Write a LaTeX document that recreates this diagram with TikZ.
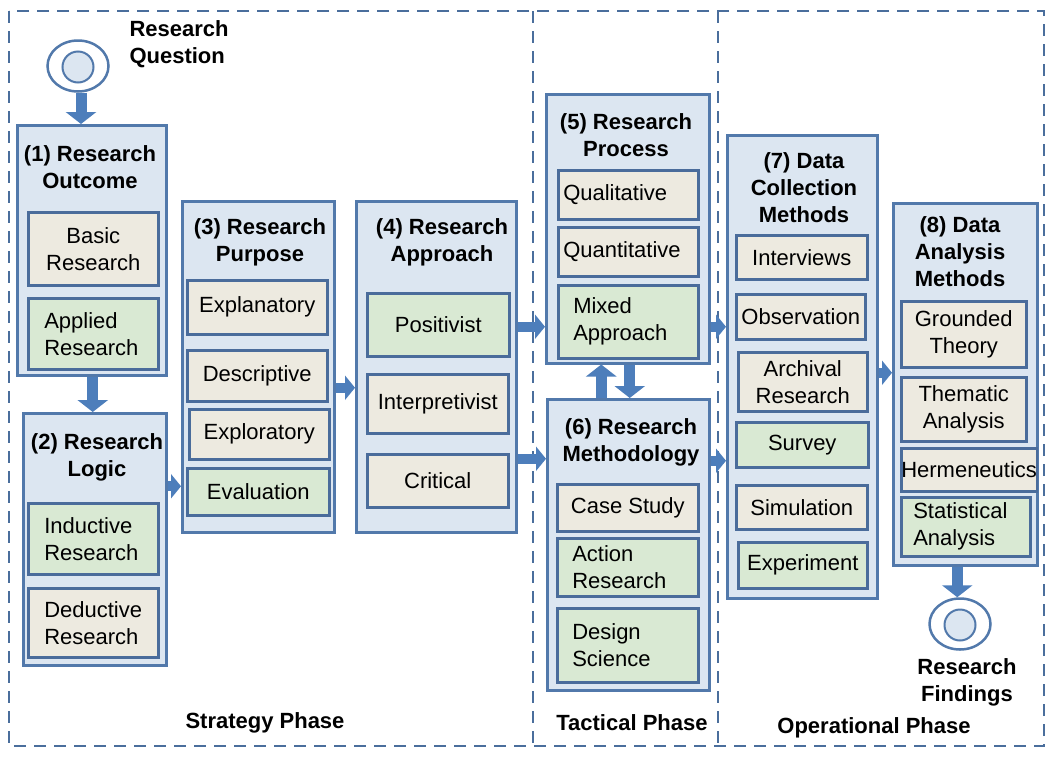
\documentclass[tikz,border=0pt]{standalone}
\usepackage{fontspec}
\setmainfont{Liberation Sans}
\usetikzlibrary{arrows.meta, shapes.geometric}

\definecolor{frameblue}{HTML}{4A6E9C}
\definecolor{stageline}{HTML}{5279AB}
\definecolor{stagefill}{HTML}{DCE6F1}
\definecolor{itemline}{HTML}{4A6C9B}
\definecolor{beige}{HTML}{EDEAE0}
\definecolor{leaf}{HTML}{D9E9D3}
\definecolor{arrowblue}{HTML}{4D7EBB}

\tikzset{
	phase/.style={draw=frameblue, line width=2pt, dash pattern=on 12pt off 8pt},
	stage/.style={rectangle, draw=stageline, fill=stagefill, line width=2.5pt, anchor=north west, inner sep=0pt},
	option/.style={rectangle, draw=itemline, line width=2.5pt, anchor=north west, inner sep=0pt, font=\fontsize{22}{27}\selectfont, align=center},
	plain/.style={option, fill=beige},
	chosen/.style={option, fill=leaf},
	heading/.style={font=\bfseries\fontsize{22}{27}\selectfont, align=center},
	flow/.style={draw=arrowblue, line width=11pt, -{Triangle[width=30pt,length=12pt]}},
	sideflow/.style={draw=arrowblue, line width=10pt, -{Triangle[width=24pt,length=10pt]}},
	terminal/.style={ellipse, draw=stageline, fill=white, line width=2.5pt, minimum width=61pt, minimum height=51pt, inner sep=0pt}
}

\begin{document}
\begin{tikzpicture}[x=1pt, y=-1pt]
		
		\useasboundingbox (0,0) rectangle (1055,761);
		
		%Phases
		\draw[phase] (9,11) rectangle (1044,746);
		\draw[phase] (533,11) -- (533,746);
		\draw[phase] (718,11) -- (718,746);
		\node (strategy) at (265,723) [heading]{Strategy Phase};
		\node (tactical) at (632,723) [heading]{Tactical Phase};
		\node (operational) at (874,728) [heading]{Operational Phase};
		
		%Start and end
		\node (question) at (78,66) [terminal]{};
		\node (questiondot) at (78,67) [circle, draw=stageline, fill=stagefill, line width=2pt, minimum size=31pt, inner sep=0pt]{};
		\node (questiontext) at (126,44) [heading, anchor=west, align=left]{Research\\Question};
		
		\node (findings) at (960,624) [terminal]{};
		\node (findingsdot) at (960,625) [circle, draw=stageline, fill=stagefill, line width=2pt, minimum size=31pt, inner sep=0pt]{};
		\node (findingstext) at (967,682) [heading]{Research\\Findings};
		
		%(1) Research Outcome
		\node (outcome) at (16,124) [stage, minimum width=149pt, minimum height=250pt]{};
		\node (outcometitle) at (90,167) [heading]{(1) Research\\Outcome};
		\node (basic) at (27,211) [plain, minimum width=130pt, minimum height=73pt]{Basic\\Research};
		\node (applied) at (27,297) [chosen, minimum width=130pt, minimum height=71pt, text width=98pt, align=left]{Applied\\Research};
		
		%(2) Research Logic
		\node (logic) at (22,412) [stage, minimum width=143pt, minimum height=252pt]{};
		\node (logictitle) at (97,457) [heading]{(2) Research\\Logic};
		\node (inductive) at (27,502) [chosen, minimum width=130pt, minimum height=71pt, text width=98pt, align=left]{Inductive\\Research};
		\node (deductive) at (27,587) [plain, minimum width=130pt, minimum height=69pt, text width=98pt, align=left]{Deductive\\Research};
		
		%(3) Research Purpose
		\node (purpose) at (181,200) [stage, minimum width=152pt, minimum height=331pt]{};
		\node (purposetitle) at (260,242) [heading]{(3) Research\\Purpose};
		\node (explanatory) at (186,279) [plain, minimum width=140pt, minimum height=54pt]{Explanatory};
		\node (descriptive) at (186,349) [plain, minimum width=140pt, minimum height=51pt]{Descriptive};
		\node (exploratory) at (188,408) [plain, minimum width=140pt, minimum height=50pt]{Exploratory};
		\node (evaluation) at (186,467) [chosen, minimum width=142pt, minimum height=47pt]{Evaluation};
		
		%(4) Research Approach
		\node (approach) at (355,200) [stage, minimum width=160pt, minimum height=331pt]{};
		\node (approachtitle) at (442,242) [heading]{(4) Research\\Approach};
		\node (positivist) at (366,292) [chosen, minimum width=142pt, minimum height=63pt]{Positivist};
		\node (interpretivist) at (366,373) [plain, minimum width=141pt, minimum height=59pt]{Interpretivist};
		\node (critical) at (366,453) [plain, minimum width=141pt, minimum height=53pt]{Critical};
		
		%(5) Research Process
		\node (process) at (545,93) [stage, minimum width=163pt, minimum height=269pt]{};
		\node (processtitle) at (626,135) [heading]{(5) Research\\Process};
		\node (qualitative) at (557,169) [plain, minimum width=140pt, minimum height=49pt, text width=130pt, align=left]{Qualitative};
		\node (quantitative) at (557,226) [plain, minimum width=140pt, minimum height=49pt, text width=130pt, align=left]{Quantitative};
		\node (mixed) at (557,284) [chosen, minimum width=140pt, minimum height=73pt, text width=110pt, align=left]{Mixed\\Approach};
		
		%(6) Research Methodology
		\node (methodology) at (546,398) [stage, minimum width=162pt, minimum height=291pt]{};
		\node (methodologytitle) at (631,442) [heading]{(6) Research\\Methodology};
		\node (casestudy) at (556,483) [plain, minimum width=141pt, minimum height=47pt]{Case Study};
		\node (action) at (556,537) [chosen, minimum width=141pt, minimum height=58pt, text width=111pt, align=left]{Action\\Research};
		\node (design) at (556,607) [chosen, minimum width=141pt, minimum height=74pt, text width=111pt, align=left]{Design\\Science};
		
		%(7) Data Collection Methods
		\node (collection) at (726,134) [stage, minimum width=150pt, minimum height=463pt]{};
		\node (collectiontitle) at (804,188) [heading]{(7) Data\\Collection\\Methods};
		\node (interviews) at (735,234) [plain, minimum width=131pt, minimum height=44pt]{Interviews};
		\node (observation) at (735,293) [plain, minimum width=129pt, minimum height=45pt]{Observation};
		\node (archival) at (737,351) [plain, minimum width=129pt, minimum height=59pt]{Archival\\Research};
		\node (survey) at (735,421) [chosen, minimum width=132pt, minimum height=45pt]{Survey};
		\node (simulation) at (735,484) [plain, minimum width=131pt, minimum height=44pt]{Simulation};
		\node (experiment) at (737,541) [chosen, minimum width=129pt, minimum height=46pt]{Experiment};
		
		%(8) Data Analysis Methods
		\node (analysis) at (892,202) [stage, minimum width=144pt, minimum height=362pt]{};
		\node (analysistitle) at (960,252) [heading]{(8) Data\\Analysis\\Methods};
		\node (grounded) at (900,300) [plain, minimum width=125pt, minimum height=66pt]{Grounded\\Theory};
		\node (thematic) at (900,376) [plain, minimum width=125pt, minimum height=64pt]{Thematic\\Analysis};
		\node (hermeneutics) at (900,447) [plain, minimum width=130pt, minimum height=43pt]{Hermeneutics};
		\node (statistical) at (900,496) [chosen, minimum width=129pt, minimum height=59pt, text width=105pt, align=left]{Statistical\\Analysis};
		
		%Flow arrows
		\draw[flow] ([xshift=3pt]question.south) to ([xshift=3pt]question.south |- outcome.north);
		\draw[flow] ([xshift=1pt]outcome.south) to ([xshift=1pt]outcome.south |- logic.north);
		\draw[sideflow] ([yshift=53pt]logic.east) to ([yshift=53pt]logic.east -| purpose.west);
		\draw[sideflow] ([yshift=-21pt]purpose.east) to ([yshift=-21pt]purpose.east -| approach.west);
		\draw[sideflow] ([yshift=40pt]approach.east) to ([yshift=40pt]approach.east -| process.west);
		\draw[sideflow] ([yshift=-92pt]approach.east) to ([yshift=-92pt]approach.east -| methodology.west);
		\draw[flow] ([xshift=-27pt]methodology.north) to ([xshift=-27pt]methodology.north |- process.south);
		\draw[flow] ([xshift=2pt]process.south) to ([xshift=2pt]process.south |- methodology.north);
		\draw[sideflow] ([yshift=-98pt]process.east) to ([yshift=-98pt]process.east -| collection.west);
		\draw[sideflow] ([yshift=84pt]methodology.east) to ([yshift=84pt]methodology.east -| collection.west);
		\draw[sideflow] ([yshift=-6pt]collection.east) to ([yshift=-6pt]collection.east -| analysis.west);
		\draw[flow] ([xshift=-8pt]analysis.south) to ([xshift=-8pt]analysis.south |- findings.north);
		
		\end{tikzpicture}
\end{document}
